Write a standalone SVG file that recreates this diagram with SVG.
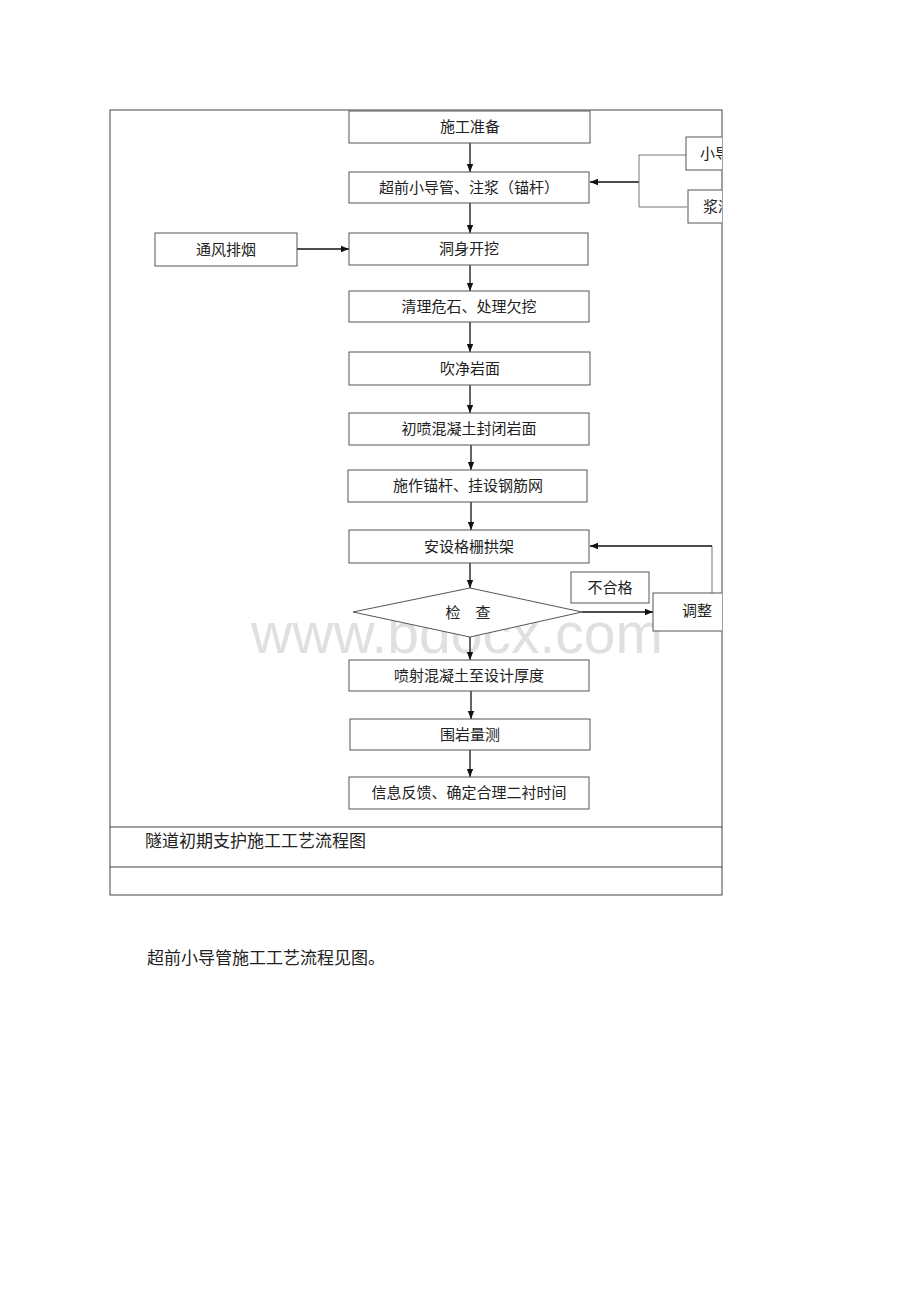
<svg xmlns="http://www.w3.org/2000/svg" width="920" height="1302" viewBox="0 0 920 1302">
<style>
.box{fill:#fff;stroke:#555;stroke-width:1}
.t{font-family:"Liberation Serif","Noto Sans CJK SC",serif;font-size:15px;fill:#222;text-anchor:middle}
.ts{font-family:"Liberation Serif","Noto Sans CJK SC",serif;font-size:15px;fill:#222;text-anchor:start}
.ln{stroke:#111;stroke-width:1.3;fill:none}
.thin{stroke:#777;stroke-width:1;fill:none}
.frame{stroke:#444;stroke-width:1;fill:none}
</style>
<defs>
<marker id="ah" viewBox="0 0 10 10" refX="10" refY="5" markerWidth="8" markerHeight="8" markerUnits="userSpaceOnUse" orient="auto">
<path d="M0,1 L10,5 L0,9 Z" fill="#111"/>
</marker>
<clipPath id="clipR"><rect x="0" y="0" width="722" height="1302"/></clipPath>
</defs>
<rect width="920" height="1302" fill="#fff"/>
<text x="457" y="653" font-family="Liberation Sans,Arial,sans-serif" font-size="57" fill="#e0e0e0" text-anchor="middle">www.bdocx.com</text>
<g id="frame">
<rect class="frame" x="110" y="110" width="612" height="785"/>
<line class="frame" x1="110" y1="827" x2="722" y2="827"/>
<line class="frame" x1="110" y1="867" x2="722" y2="867"/>
</g>
<g id="connectors">
<line class="ln" x1="470" y1="143" x2="470" y2="172" marker-end="url(#ah)"/>
<line class="ln" x1="470" y1="203" x2="470" y2="233" marker-end="url(#ah)"/>
<line class="ln" x1="470" y1="265" x2="470" y2="291" marker-end="url(#ah)"/>
<line class="ln" x1="470" y1="322" x2="470" y2="352" marker-end="url(#ah)"/>
<line class="ln" x1="470" y1="385" x2="470" y2="413" marker-end="url(#ah)"/>
<line class="ln" x1="471" y1="445" x2="471" y2="470" marker-end="url(#ah)"/>
<line class="ln" x1="471" y1="502" x2="471" y2="530" marker-end="url(#ah)"/>
<line class="ln" x1="470" y1="563" x2="470" y2="588" marker-end="url(#ah)"/>
<line class="ln" x1="470" y1="637" x2="470" y2="660" marker-end="url(#ah)"/>
<line class="ln" x1="471" y1="691" x2="471" y2="719" marker-end="url(#ah)"/>
<line class="ln" x1="470" y1="750" x2="470" y2="777" marker-end="url(#ah)"/>
<line class="ln" x1="297" y1="249" x2="349" y2="249" marker-end="url(#ah)"/>
<line class="ln" x1="639" y1="182" x2="590" y2="182" marker-end="url(#ah)"/>
<path class="thin" d="M686,155 H639 V207 H687"/>
<line class="ln" x1="582" y1="612" x2="653" y2="612" marker-end="url(#ah)"/>
<path class="thin" d="M712,593 V546" />
<line class="ln" x1="712" y1="546" x2="590" y2="546" marker-end="url(#ah)"/>
</g>
<g id="n1"><rect class="box" x="349" y="111" width="241" height="32"/><text class="t" x="470" y="132">施工准备</text></g>
<g id="n2"><rect class="box" x="349" y="172" width="240" height="31"/><text class="t" x="469" y="193">超前小导管、注浆（锚杆）</text></g>
<g id="n3"><rect class="box" x="349" y="233" width="239" height="32"/><text class="t" x="469" y="254">洞身开挖</text></g>
<g id="n4"><rect class="box" x="349" y="291" width="240" height="31"/><text class="t" x="469" y="312">清理危石、处理欠挖</text></g>
<g id="n5"><rect class="box" x="349" y="352" width="241" height="33"/><text class="t" x="470" y="374">吹净岩面</text></g>
<g id="n6"><rect class="box" x="349" y="413" width="240" height="32"/><text class="t" x="469" y="434">初喷混凝土封闭岩面</text></g>
<g id="n7"><rect class="box" x="348" y="470" width="239" height="32"/><text class="t" x="468" y="491">施作锚杆、挂设钢筋网</text></g>
<g id="n8"><rect class="box" x="349" y="530" width="240" height="33"/><text class="t" x="469" y="552">安设格栅拱架</text></g>
<g id="n9"><polygon class="box" points="353,612 470,588 582,612 470,637"/><text class="t" x="468" y="618">检　查</text></g>
<g id="n10"><rect class="box" x="349" y="660" width="240" height="31"/><text class="t" x="469" y="681">喷射混凝土至设计厚度</text></g>
<g id="n11"><rect class="box" x="350" y="719" width="240" height="31"/><text class="t" x="470" y="740">围岩量测</text></g>
<g id="n12"><rect class="box" x="349" y="777" width="240" height="32"/><text class="t" x="469" y="798">信息反馈、确定合理二衬时间</text></g>
<g id="n13"><rect class="box" x="155" y="233" width="142" height="33"/><text class="t" x="226" y="255">通风排烟</text></g>
<g id="n14"><rect class="box" x="571" y="572" width="78" height="31"/><text class="t" x="610" y="593">不合格</text></g>
<g id="n15"><rect class="box" x="653" y="593" width="80" height="38" clip-path="url(#clipR)"/><text class="t" x="697" y="616">调整</text></g>
<g id="n16" clip-path="url(#clipR)"><rect class="box" x="686" y="137" width="60" height="33"/><text class="ts" x="700" y="159">小导管</text></g>
<g id="n17" clip-path="url(#clipR)"><rect class="box" x="688" y="190" width="60" height="33"/><text class="ts" x="703" y="212">浆液</text></g>
<g id="captions">
<text x="145" y="847" font-family="Liberation Serif,'Noto Sans CJK SC',serif" font-size="17" fill="#222">隧道初期支护施工工艺流程图</text>
<text x="147" y="964" font-family="Liberation Serif,'Noto Sans CJK SC',serif" font-size="17" fill="#222">超前小导管施工工艺流程见图。</text>
</g>
</svg>
